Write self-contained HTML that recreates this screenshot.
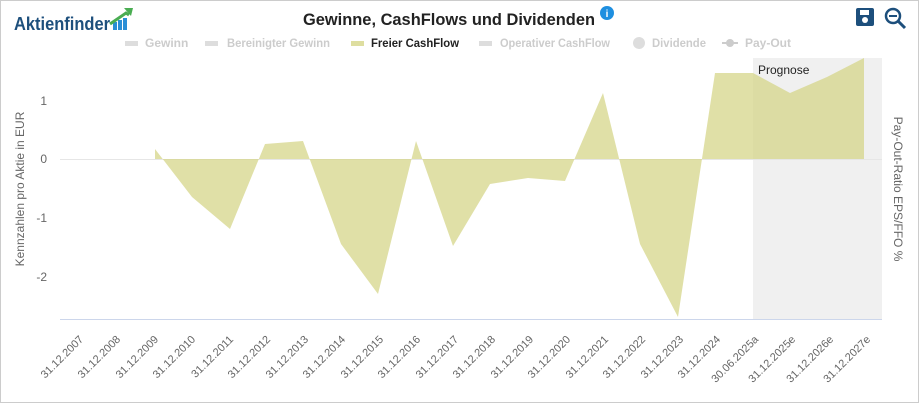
<!DOCTYPE html>
<html><head><meta charset="utf-8"><style>
body{margin:0;background:#fff;}
svg{display:block;font-family:"Liberation Sans",sans-serif;}
</style></head><body>
<svg width="919" height="403" viewBox="0 0 919 403" xmlns="http://www.w3.org/2000/svg">
<rect x="0.5" y="0.5" width="918" height="402" fill="#fff" stroke="#ccc"/>
<text x="14" y="30" font-size="18" font-weight="bold" fill="#1d4f7c" textLength="96" lengthAdjust="spacingAndGlyphs">Aktienfinder</text>
<rect x="113" y="22" width="4" height="8" fill="#2a8fd6"/><rect x="118" y="20" width="4" height="10" fill="#2a8fd6"/><rect x="123" y="18" width="4" height="12" fill="#2a8fd6"/>
<path d="M110 24 L126 13 L129 15" stroke="#4aad52" stroke-width="3" fill="none"/><path d="M124 8 L133 8 L131 16 Z" fill="#4aad52"/>
<text x="449" y="25" font-size="17" font-weight="bold" text-anchor="middle" fill="#222" textLength="292" lengthAdjust="spacingAndGlyphs">Gewinne, CashFlows und Dividenden</text>
<circle cx="607" cy="13" r="7" fill="#1e8fe0"/><text x="607" y="17" font-size="10" font-weight="bold" text-anchor="middle" fill="#fff">i</text>
<rect x="856" y="8" width="18" height="18" rx="2" fill="#1d4f7c"/><rect x="860" y="10" width="9" height="5" fill="#fff"/><circle cx="865" cy="20" r="3" fill="#fff"/>
<circle cx="893" cy="16" r="7" fill="none" stroke="#1d4f7c" stroke-width="2.5"/><line x1="889" y1="16" x2="897" y2="16" stroke="#1d4f7c" stroke-width="2"/><line x1="898" y1="21" x2="905" y2="28" stroke="#1d4f7c" stroke-width="3"/>
<g font-size="12" font-weight="bold" fill="#ccc">
<rect x="125" y="41" width="13" height="5" fill="#ddd"/><text x="145" y="47">Gewinn</text>
<rect x="205" y="41" width="13" height="5" fill="#ddd"/><text x="227" y="47" textLength="103" lengthAdjust="spacingAndGlyphs">Bereinigter Gewinn</text>
<rect x="351" y="41" width="13" height="5" fill="#dedea0"/><text x="371" y="47" fill="#222" textLength="88" lengthAdjust="spacingAndGlyphs">Freier CashFlow</text>
<rect x="479" y="41" width="13" height="5" fill="#ddd"/><text x="500" y="47" textLength="110" lengthAdjust="spacingAndGlyphs">Operativer CashFlow</text>
<circle cx="639" cy="43" r="6" fill="#ddd"/><text x="652" y="47" textLength="54" lengthAdjust="spacingAndGlyphs">Dividende</text>
<line x1="722" y1="43" x2="738" y2="43" stroke="#ccc" stroke-width="2"/><circle cx="730" cy="43" r="4" fill="#ccc"/><text x="745" y="47">Pay-Out</text>
</g>
<rect x="753" y="58" width="129" height="261" fill="#f0f0f0"/>
<text x="758" y="74" font-size="12" fill="#222">Prognose</text>
<line x1="60" y1="319.5" x2="882" y2="319.5" stroke="#ccd6eb"/>
<line x1="60" y1="159.5" x2="882" y2="159.5" stroke="#e6e6e6"/>
<polygon fill="#d6d68a" fill-opacity="0.75" points="155,159 155,149 192,197 230,229 265,144 303,141 341,244 378,294 416,141 453,246 490,184 528,178 565,181 603,93 640,244 678,317 715,73 753,73 790,93 827,77 864,58 864,159"/>
<g font-size="12" fill="#666" text-anchor="end">
<text x="47" y="105">1</text><text x="47" y="163">0</text><text x="47" y="222">-1</text><text x="47" y="281">-2</text>
</g>
<text transform="translate(24,189) rotate(-90)" font-size="12" fill="#666" text-anchor="middle">Kennzahlen pro Aktie in EUR</text>
<text transform="translate(894,189) rotate(90)" font-size="12" fill="#666" text-anchor="middle">Pay-Out-Ratio EPS/FFO %</text>
<g font-size="11" fill="#666" text-anchor="end">
<text transform="translate(84,340) rotate(-45)">31.12.2007</text>
<text transform="translate(121,340) rotate(-45)">31.12.2008</text>
<text transform="translate(159,340) rotate(-45)">31.12.2009</text>
<text transform="translate(196,340) rotate(-45)">31.12.2010</text>
<text transform="translate(234,340) rotate(-45)">31.12.2011</text>
<text transform="translate(271,340) rotate(-45)">31.12.2012</text>
<text transform="translate(309,340) rotate(-45)">31.12.2013</text>
<text transform="translate(346,340) rotate(-45)">31.12.2014</text>
<text transform="translate(384,340) rotate(-45)">31.12.2015</text>
<text transform="translate(421,340) rotate(-45)">31.12.2016</text>
<text transform="translate(459,340) rotate(-45)">31.12.2017</text>
<text transform="translate(496,340) rotate(-45)">31.12.2018</text>
<text transform="translate(534,340) rotate(-45)">31.12.2019</text>
<text transform="translate(571,340) rotate(-45)">31.12.2020</text>
<text transform="translate(609,340) rotate(-45)">31.12.2021</text>
<text transform="translate(646,340) rotate(-45)">31.12.2022</text>
<text transform="translate(684,340) rotate(-45)">31.12.2023</text>
<text transform="translate(721,340) rotate(-45)">31.12.2024</text>
<text transform="translate(759,340) rotate(-45)">30.06.2025a</text>
<text transform="translate(796,340) rotate(-45)">31.12.2025e</text>
<text transform="translate(834,340) rotate(-45)">31.12.2026e</text>
<text transform="translate(871,340) rotate(-45)">31.12.2027e</text>
</g>
</svg>
</body></html>
